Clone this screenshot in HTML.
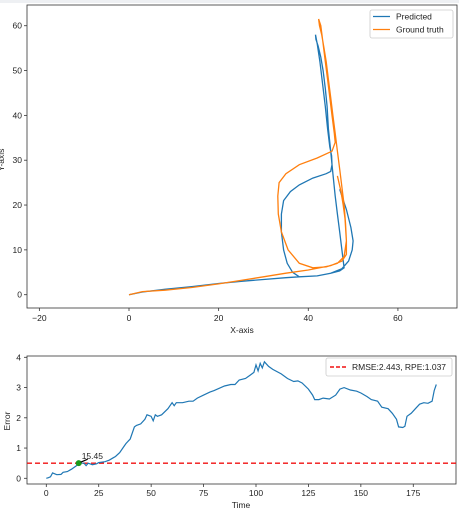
<!DOCTYPE html>
<html><head><meta charset="utf-8"><style>
body{margin:0;background:#fff;width:459px;height:512px;overflow:hidden}
svg{display:block;font-family:"Liberation Sans","DejaVu Sans",sans-serif}
</style></head><body>
<svg id="c" width="459" height="512">
<rect x="0" y="0" width="459" height="3" fill="#eef0f3"/>
</svg>
<script>
// ---- Trajectory data (top chart) ----
const predX=[0,3,8,14,20,25,30,35,38,42,45,47,48,47.5,47,46.5,46,45.5,45,44.5,44.2,43.8,43.3,42.8,42.2,41.7,41.6,42,42.6,43.2,43.8,44.3,44.8,45.2,45.3,45,44,41,38,36,34.5,34,34,34.5,35.3,36.5,38,42,45,47.5,49,49.8,50,49.5,48.5,47.5,47];
const predY=[0,0.6,1.2,1.8,2.5,3,3.4,3.8,4,4.2,4.8,5.3,6,10,14,18,22,27,32,37,42,46,50,53,55.5,57,58,56,52,47,42,37,33,31,29,27.5,27,26,24.5,23,21,18,14,10,7,5,4,4.2,4.8,5.8,7.5,10,12,15,19,22,23.5];
const gtX=[0,3,8,14,20,25,30,35,40,45,47.5,48.5,48.5,48.3,48,47.5,47,46.5,46,45.5,45,44.5,44,43.5,43,42.5,42.3,42.8,43.3,43.8,44.3,44.8,45.3,45.8,46,45.3,42,38,35,33.5,33.2,33.3,34,35.5,38,41,44,46.5,48,48.5,48.2,47.8,47.3,46.5];
const gtY=[0,0.7,1,1.6,2.4,3.2,4,4.8,5.5,6.5,7.5,9,12,16,20,24,28,32,36,40,44,48,52,55,58,60,61.5,60,56,52,48,44,40,36,34,32,30.5,29,27,25,22,18,14,10,7,6,6.2,7,8.5,12,17,20,23,26.5];
const xTicks=[-20,0,20,40,60];
const yTicks=[0,10,20,30,40,50,60];
// ---- Error data (bottom chart) ----
const errT=[0,1,2,3,4,5,7,8,10,12,13,15,16,18,19,20,22,24,25,28,30,32,33,35,37,38,40,42,43,45,47,48,50,51,52,53,55,58,60,61,62,65,68,70,72,75,78,80,85,88,90,92,95,97,99,100,101,102,103,104,106,108,112,115,118,120,122,125,127,128,130,132,135,138,140,142,145,148,150,153,155,158,160,163,165,167,168,170,171,172,174,176,178,180,182,184,185,186];
const errV=[0,0.02,0.05,0.18,0.15,0.12,0.13,0.2,0.22,0.3,0.35,0.45,0.5,0.5,0.42,0.5,0.45,0.48,0.52,0.55,0.6,0.68,0.72,0.85,1.05,1.15,1.3,1.7,1.75,1.8,1.95,2.1,2.05,1.9,2.1,2.05,2.1,2.3,2.5,2.4,2.5,2.5,2.55,2.55,2.65,2.75,2.85,2.9,3.05,3.1,3.1,3.25,3.3,3.4,3.5,3.75,3.55,3.8,3.65,3.85,3.7,3.6,3.45,3.3,3.2,3.22,3.15,2.95,2.75,2.6,2.6,2.65,2.62,2.75,2.95,3.0,2.92,2.88,2.82,2.7,2.6,2.55,2.35,2.3,2.15,1.95,1.7,1.68,1.72,2.05,2.15,2.3,2.45,2.5,2.48,2.55,2.9,3.1];
const tTicks=[0,25,50,75,100,125,150,175];
const eTicks=[0,1,2,3,4];
const threshold=0.5, markT=15.45;

const NS="http://www.w3.org/2000/svg", svg=document.getElementById('c');
function mk(tag,attrs,parent){const e=document.createElementNS(NS,tag);for(const k in attrs)e.setAttribute(k,attrs[k]);(parent||svg).appendChild(e);return e;}
// top axes
const X1=v=>129+v*4.482, Y1=v=>294.7-v*4.483;
const ax1=mk('rect',{x:27,y:5,width:430,height:303,fill:'none',stroke:'#333','stroke-width':0.8});

xTicks.forEach(v=>{const x=X1(v);mk('line',{x1:x,x2:x,y1:308,y2:311,stroke:'#333','stroke-width':0.8});
 const t=mk('text',{x:x,y:321,'font-size':8.5,'text-anchor':'middle',fill:'#222'});t.textContent=String(v).replace('-','−');
 });
yTicks.forEach(v=>{const y=Y1(v);mk('line',{x1:24,x2:27,y1:y,y2:y,stroke:'#333','stroke-width':0.8});
 const t=mk('text',{x:22,y:y+3,'font-size':8.5,'text-anchor':'end',fill:'#222'});t.textContent=v;
 });
function path(xs,ys,fx,fy){return xs.map((x,i)=>(i?'L':'M')+fx(x).toFixed(1)+','+fy(ys[i]).toFixed(1)).join('');}
const p1=mk('path',{d:path(predX,predY,X1,Y1),fill:'none',stroke:'#1f77b4','stroke-width':1.3});

const p2=mk('path',{d:path(gtX,gtY,X1,Y1),fill:'none',stroke:'#ff7f0e','stroke-width':1.3});

let t=mk('text',{x:242,y:333,'font-size':8.5,'text-anchor':'middle',fill:'#222'});t.textContent='X-axis';

t=mk('text',{x:4,y:160,'font-size':8.5,'text-anchor':'middle',fill:'#222',transform:'rotate(-90 4 160)'});t.textContent='Y-axis';

const lg=mk('g',{});
mk('rect',{x:370,y:10,width:83,height:28,fill:'#fff',stroke:'#ccc','stroke-width':0.8,rx:2},lg);
mk('line',{x1:373,x2:390,y1:16.5,y2:16.5,stroke:'#1f77b4','stroke-width':1.3},lg);
mk('line',{x1:373,x2:390,y1:29.5,y2:29.5,stroke:'#ff7f0e','stroke-width':1.3},lg);
t=mk('text',{x:396,y:19.5,'font-size':8.5,fill:'#222'},lg);t.textContent='Predicted';

t=mk('text',{x:396,y:32.5,'font-size':8.5,fill:'#222'},lg);t.textContent='Ground truth';

// bottom axes
const X2=v=>46.3+v*2.097, Y2=v=>478.3-v*30.25;
const ax2=mk('rect',{x:27,y:356,width:429,height:128,fill:'none',stroke:'#333','stroke-width':0.8});

tTicks.forEach(v=>{const x=X2(v);mk('line',{x1:x,x2:x,y1:484,y2:487,stroke:'#333','stroke-width':0.8});
 const t=mk('text',{x:x,y:496,'font-size':8.5,'text-anchor':'middle',fill:'#222'});t.textContent=v;
 });
eTicks.forEach(v=>{const y=Y2(v);mk('line',{x1:24,x2:27,y1:y,y2:y,stroke:'#333','stroke-width':0.8});
 const t=mk('text',{x:21,y:y+3,'font-size':8.5,'text-anchor':'end',fill:'#222'});t.textContent=v;
 });
const th=mk('line',{x1:27,x2:456,y1:Y2(threshold),y2:Y2(threshold),stroke:'#f01010','stroke-width':1.4,'stroke-dasharray':'5,3'});

const p3=mk('path',{d:path(errT,errV,X2,Y2),fill:'none',stroke:'#1f77b4','stroke-width':1.2});

const dot=mk('circle',{cx:X2(markT),cy:Y2(threshold),r:3,fill:'#1a9a1a'});

mk('line',{x1:X2(markT)+2,y1:Y2(threshold)-1,x2:X2(markT)+9,y2:Y2(threshold)-4,stroke:'#000','stroke-width':1.2});
t=mk('text',{x:X2(markT)+3,y:Y2(threshold)-4,'font-size':8.5,fill:'#222'});t.textContent=markT;

t=mk('text',{x:241,y:508,'font-size':8.5,'text-anchor':'middle',fill:'#222'});t.textContent='Time';

t=mk('text',{x:10,y:421,'font-size':8.5,'text-anchor':'middle',fill:'#222',transform:'rotate(-90 10 421)'});t.textContent='Error';

const lg2=mk('g',{});
mk('rect',{x:326,y:358,width:126,height:18,fill:'#fff',stroke:'#ccc','stroke-width':0.8,rx:2},lg2);
mk('line',{x1:330,x2:347,y1:367,y2:367,stroke:'#f01010','stroke-width':1.4,'stroke-dasharray':'4,2'},lg2);
t=mk('text',{x:352,y:370,'font-size':8.5,fill:'#222'},lg2);t.textContent='RMSE:2.443, RPE:1.037';

</script>
</body></html>
